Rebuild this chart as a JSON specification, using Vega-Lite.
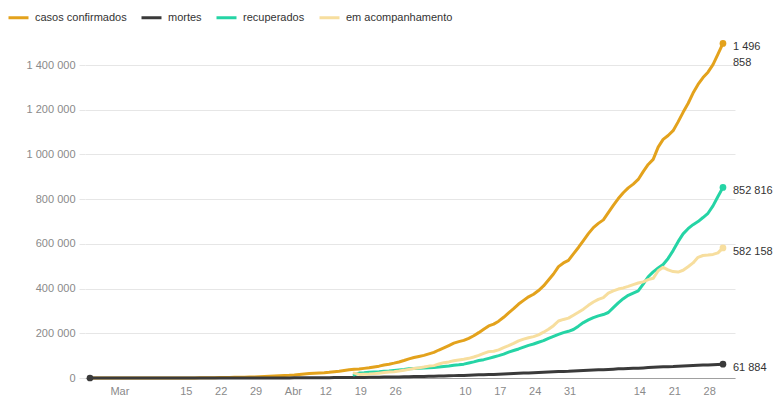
{
"$schema":"https://vega.github.io/schema/vega-lite/v6.json",
"width":650,"height":348,
"autosize":{"type":"none"},
"padding":{"left":85,"top":30,"right":47,"bottom":20},
"config":{"view":{"stroke":null},"font":"Liberation Sans"},
"datasets":{
"serie":[
{"d":"2020-02-26","casos":1,"mortes":0},
{"d":"2020-02-27","casos":1,"mortes":0},
{"d":"2020-02-28","casos":1,"mortes":0},
{"d":"2020-02-29","casos":2,"mortes":0},
{"d":"2020-03-01","casos":2,"mortes":0},
{"d":"2020-03-02","casos":2,"mortes":0},
{"d":"2020-03-03","casos":2,"mortes":0},
{"d":"2020-03-04","casos":3,"mortes":0},
{"d":"2020-03-05","casos":8,"mortes":0},
{"d":"2020-03-06","casos":13,"mortes":0},
{"d":"2020-03-07","casos":19,"mortes":0},
{"d":"2020-03-08","casos":25,"mortes":0},
{"d":"2020-03-09","casos":25,"mortes":0},
{"d":"2020-03-10","casos":34,"mortes":0},
{"d":"2020-03-11","casos":52,"mortes":0},
{"d":"2020-03-12","casos":77,"mortes":0},
{"d":"2020-03-13","casos":98,"mortes":0},
{"d":"2020-03-14","casos":121,"mortes":0},
{"d":"2020-03-15","casos":200,"mortes":0},
{"d":"2020-03-16","casos":234,"mortes":0},
{"d":"2020-03-17","casos":291,"mortes":1},
{"d":"2020-03-18","casos":428,"mortes":4},
{"d":"2020-03-19","casos":621,"mortes":7},
{"d":"2020-03-20","casos":904,"mortes":11},
{"d":"2020-03-21","casos":1128,"mortes":18},
{"d":"2020-03-22","casos":1546,"mortes":25},
{"d":"2020-03-23","casos":1891,"mortes":34},
{"d":"2020-03-24","casos":2201,"mortes":46},
{"d":"2020-03-25","casos":2433,"mortes":57},
{"d":"2020-03-26","casos":2915,"mortes":77},
{"d":"2020-03-27","casos":3417,"mortes":92},
{"d":"2020-03-28","casos":3904,"mortes":111},
{"d":"2020-03-29","casos":4256,"mortes":136},
{"d":"2020-03-30","casos":4579,"mortes":159},
{"d":"2020-03-31","casos":5717,"mortes":201},
{"d":"2020-04-01","casos":6836,"mortes":240},
{"d":"2020-04-02","casos":8044,"mortes":324},
{"d":"2020-04-03","casos":9056,"mortes":359},
{"d":"2020-04-04","casos":10278,"mortes":445},
{"d":"2020-04-05","casos":11130,"mortes":486},
{"d":"2020-04-06","casos":12056,"mortes":553},
{"d":"2020-04-07","casos":13717,"mortes":667},
{"d":"2020-04-08","casos":15927,"mortes":800},
{"d":"2020-04-09","casos":17857,"mortes":941},
{"d":"2020-04-10","casos":19638,"mortes":1056},
{"d":"2020-04-11","casos":20727,"mortes":1124},
{"d":"2020-04-12","casos":22169,"mortes":1223},
{"d":"2020-04-13","casos":23430,"mortes":1328},
{"d":"2020-04-14","casos":25262,"mortes":1532},
{"d":"2020-04-15","casos":28320,"mortes":1736},
{"d":"2020-04-16","casos":30425,"mortes":1924},
{"d":"2020-04-17","casos":33682,"mortes":2141},
{"d":"2020-04-18","casos":36599,"mortes":2347},
{"d":"2020-04-19","casos":38654,"mortes":2462,"recuperados":14026,"acompanhamento":22000},
{"d":"2020-04-20","casos":40581,"mortes":2587,"recuperados":22130,"acompanhamento":16000},
{"d":"2020-04-21","casos":43079,"mortes":2741,"recuperados":23000,"acompanhamento":17300},
{"d":"2020-04-22","casos":45757,"mortes":2906,"recuperados":25300,"acompanhamento":17500},
{"d":"2020-04-23","casos":49492,"mortes":3313,"recuperados":26600,"acompanhamento":19600},
{"d":"2020-04-24","casos":52995,"mortes":3670,"recuperados":27700,"acompanhamento":21700},
{"d":"2020-04-25","casos":58509,"mortes":4016,"recuperados":30200,"acompanhamento":24200},
{"d":"2020-04-26","casos":61888,"mortes":4205,"recuperados":31100,"acompanhamento":26600},
{"d":"2020-04-27","casos":66501,"mortes":4543,"recuperados":34100,"acompanhamento":27900},
{"d":"2020-04-28","casos":71886,"mortes":5017,"recuperados":35900,"acompanhamento":30900},
{"d":"2020-04-29","casos":78162,"mortes":5466,"recuperados":38000,"acompanhamento":34700},
{"d":"2020-04-30","casos":85380,"mortes":5901,"recuperados":40900,"acompanhamento":38500},
{"d":"2020-05-01","casos":91589,"mortes":6329,"recuperados":42000,"acompanhamento":42300},
{"d":"2020-05-02","casos":96559,"mortes":6750,"recuperados":43500,"acompanhamento":45300},
{"d":"2020-05-03","casos":101147,"mortes":7025,"recuperados":44500,"acompanhamento":48800},
{"d":"2020-05-04","casos":107780,"mortes":7321,"recuperados":45800,"acompanhamento":53200},
{"d":"2020-05-05","casos":114715,"mortes":7921,"recuperados":47500,"acompanhamento":55400},
{"d":"2020-05-06","casos":125218,"mortes":8536,"recuperados":49500,"acompanhamento":62400},
{"d":"2020-05-07","casos":135106,"mortes":9146,"recuperados":51500,"acompanhamento":68600},
{"d":"2020-05-08","casos":145328,"mortes":9897,"recuperados":54000,"acompanhamento":72000},
{"d":"2020-05-09","casos":155939,"mortes":10627,"recuperados":57000,"acompanhamento":77300},
{"d":"2020-05-10","casos":162699,"mortes":11123,"recuperados":59000,"acompanhamento":81000},
{"d":"2020-05-11","casos":168331,"mortes":11519,"recuperados":62000,"acompanhamento":84000},
{"d":"2020-05-12","casos":177589,"mortes":12400,"recuperados":67000,"acompanhamento":88000},
{"d":"2020-05-13","casos":188974,"mortes":13149,"recuperados":72000,"acompanhamento":94000},
{"d":"2020-05-14","casos":202918,"mortes":13993,"recuperados":78000,"acompanhamento":101000},
{"d":"2020-05-15","casos":218223,"mortes":14817,"recuperados":82000,"acompanhamento":110000},
{"d":"2020-05-16","casos":233142,"mortes":15633,"recuperados":88000,"acompanhamento":118000},
{"d":"2020-05-17","casos":241080,"mortes":16118,"recuperados":94000,"acompanhamento":120000},
{"d":"2020-05-18","casos":254220,"mortes":16853,"recuperados":100000,"acompanhamento":126000},
{"d":"2020-05-19","casos":271628,"mortes":17971,"recuperados":107000,"acompanhamento":136000},
{"d":"2020-05-20","casos":291579,"mortes":18859,"recuperados":116000,"acompanhamento":145000},
{"d":"2020-05-21","casos":310087,"mortes":20047,"recuperados":123000,"acompanhamento":155000},
{"d":"2020-05-22","casos":330890,"mortes":21048,"recuperados":130000,"acompanhamento":166000},
{"d":"2020-05-23","casos":347398,"mortes":22013,"recuperados":138000,"acompanhamento":174000},
{"d":"2020-05-24","casos":363211,"mortes":22666,"recuperados":146000,"acompanhamento":180000},
{"d":"2020-05-25","casos":374898,"mortes":23473,"recuperados":152000,"acompanhamento":185000},
{"d":"2020-05-26","casos":391222,"mortes":24512,"recuperados":160000,"acompanhamento":193000},
{"d":"2020-05-27","casos":411821,"mortes":25598,"recuperados":167000,"acompanhamento":205000},
{"d":"2020-05-28","casos":438238,"mortes":26754,"recuperados":177000,"acompanhamento":218000},
{"d":"2020-05-29","casos":465166,"mortes":27878,"recuperados":186000,"acompanhamento":234000},
{"d":"2020-05-30","casos":498440,"mortes":28834,"recuperados":195000,"acompanhamento":255000},
{"d":"2020-05-31","casos":514849,"mortes":29314,"recuperados":203000,"acompanhamento":262000},
{"d":"2020-06-01","casos":526447,"mortes":29937,"recuperados":209000,"acompanhamento":268000},
{"d":"2020-06-02","casos":555383,"mortes":31199,"recuperados":217000,"acompanhamento":281000},
{"d":"2020-06-03","casos":584016,"mortes":32548,"recuperados":232000,"acompanhamento":294000},
{"d":"2020-06-04","casos":614941,"mortes":34021,"recuperados":248000,"acompanhamento":308000},
{"d":"2020-06-05","casos":645771,"mortes":35026,"recuperados":260000,"acompanhamento":325000},
{"d":"2020-06-06","casos":672846,"mortes":35930,"recuperados":270000,"acompanhamento":340000},
{"d":"2020-06-07","casos":691758,"mortes":36455,"recuperados":278000,"acompanhamento":352000},
{"d":"2020-06-08","casos":707412,"mortes":37134,"recuperados":284000,"acompanhamento":360000},
{"d":"2020-06-09","casos":739503,"mortes":38406,"recuperados":293000,"acompanhamento":380000},
{"d":"2020-06-10","casos":772416,"mortes":39680,"recuperados":315000,"acompanhamento":390000},
{"d":"2020-06-11","casos":802828,"mortes":40919,"recuperados":336000,"acompanhamento":398000},
{"d":"2020-06-12","casos":828810,"mortes":41828,"recuperados":355000,"acompanhamento":403000},
{"d":"2020-06-13","casos":850514,"mortes":42720,"recuperados":370000,"acompanhamento":410000},
{"d":"2020-06-14","casos":867624,"mortes":43332,"recuperados":380000,"acompanhamento":418000},
{"d":"2020-06-15","casos":888271,"mortes":43959,"recuperados":390000,"acompanhamento":425000},
{"d":"2020-06-16","casos":923189,"mortes":45241,"recuperados":420000,"acompanhamento":430000},
{"d":"2020-06-17","casos":955377,"mortes":46510,"recuperados":453000,"acompanhamento":440000},
{"d":"2020-06-18","casos":978142,"mortes":47748,"recuperados":475000,"acompanhamento":446000},
{"d":"2020-06-19","casos":1032913,"mortes":48954,"recuperados":492000,"acompanhamento":480000},
{"d":"2020-06-20","casos":1067579,"mortes":49976,"recuperados":508000,"acompanhamento":495000},
{"d":"2020-06-21","casos":1085038,"mortes":50617,"recuperados":535000,"acompanhamento":484000},
{"d":"2020-06-22","casos":1106470,"mortes":51271,"recuperados":570000,"acompanhamento":476000},
{"d":"2020-06-23","casos":1145906,"mortes":52645,"recuperados":610000,"acompanhamento":474000},
{"d":"2020-06-24","casos":1188631,"mortes":53830,"recuperados":645000,"acompanhamento":482000},
{"d":"2020-06-25","casos":1228114,"mortes":54971,"recuperados":668000,"acompanhamento":498000},
{"d":"2020-06-26","casos":1274974,"mortes":55961,"recuperados":686000,"acompanhamento":515000},
{"d":"2020-06-27","casos":1313667,"mortes":57070,"recuperados":700000,"acompanhamento":540000},
{"d":"2020-06-28","casos":1344143,"mortes":57622,"recuperados":718000,"acompanhamento":548000},
{"d":"2020-06-29","casos":1368195,"mortes":58314,"recuperados":737000,"acompanhamento":550000},
{"d":"2020-06-30","casos":1402041,"mortes":59594,"recuperados":770000,"acompanhamento":553000},
{"d":"2020-07-01","casos":1448753,"mortes":60632,"recuperados":812000,"acompanhamento":560000},
{"d":"2020-07-02","casos":1496858,"mortes":61884,"recuperados":852816,"acompanhamento":582158}
],
"fim":[
{"d":"2020-02-26","s":"mortes","v":0,"label":""},
{"d":"2020-07-02","s":"casos","v":1496858,"label":"1 496\n858"},
{"d":"2020-07-02","s":"recuperados","v":852816,"label":"852 816"},
{"d":"2020-07-02","s":"acompanhamento","v":582158,"label":"582 158"},
{"d":"2020-07-02","s":"mortes","v":61884,"label":"61 884"}
]
},
"layer":[
{"data":{"name":"serie"},
"transform":[{"fold":["casos","mortes","recuperados","acompanhamento"],"as":["s","v"]},{"filter":"isValid(datum.v)"}],
"mark":{"type":"line","strokeCap":"round","strokeJoin":"round"},
"encoding":{
"x":{"field":"d","type":"temporal",
"scale":{"type":"utc","domain":[{"year":2020,"month":2,"date":25,"utc":true},{"year":2020,"month":7,"date":4,"hours":10,"utc":true}]},
"axis":{"title":null,"ticks":false,"grid":false,"domainColor":"#a0a0a0","domainWidth":1,"labelColor":"#8a8a8a","labelFontSize":11,"labelPadding":7,"labelAlign":"left","labelOverlap":false,"labelFlush":false,
"values":[
{"year":2020,"month":3,"date":1,"utc":true},
{"year":2020,"month":3,"date":15,"utc":true},
{"year":2020,"month":3,"date":22,"utc":true},
{"year":2020,"month":3,"date":29,"utc":true},
{"year":2020,"month":4,"date":5,"utc":true},
{"year":2020,"month":4,"date":12,"utc":true},
{"year":2020,"month":4,"date":19,"utc":true},
{"year":2020,"month":4,"date":26,"utc":true},
{"year":2020,"month":5,"date":10,"utc":true},
{"year":2020,"month":5,"date":17,"utc":true},
{"year":2020,"month":5,"date":24,"utc":true},
{"year":2020,"month":5,"date":31,"utc":true},
{"year":2020,"month":6,"date":14,"utc":true},
{"year":2020,"month":6,"date":21,"utc":true},
{"year":2020,"month":6,"date":28,"utc":true}],
"labelExpr":"utcdate(datum.value) <= 7 ? ['Jan','Fev','Mar','Abr','Mai','Jun','Jul'][utcmonth(datum.value)] : '' + utcdate(datum.value)"}},
"y":{"field":"v","type":"quantitative","scale":{"domain":[0,1557000],"nice":false,"zero":true},
"axis":{"title":null,"values":[0,200000,400000,600000,800000,1000000,1200000,1400000],"labelExpr":"replace(format(datum.value, ','), regexp(',', 'g'), ' ')","domain":false,"grid":true,"gridColor":"#e6e6e6","tickColor":"#e6e6e6","tickSize":6,"labelColor":"#8a8a8a","labelFontSize":11,"labelPadding":4}},
"color":{"field":"s","type":"nominal",
"scale":{"domain":["casos","mortes","recuperados","acompanhamento"],"range":["#e3a21c","#3a3a3a","#25d4a5","#f7de9e"]},
"legend":{"title":null,"orient":"none","legendX":-78,"legendY":-24,"direction":"horizontal","symbolType":"stroke","symbolSize":400,"symbolStrokeWidth":3,"labelFontSize":11,"labelColor":"#333333","columnPadding":8,"labelOffset":5,
"labelExpr":"datum.label == 'casos' ? 'casos confirmados' : datum.label == 'acompanhamento' ? 'em acompanhamento' : datum.label"}},
"strokeWidth":{"field":"s","type":"nominal","scale":{"domain":["casos","mortes","recuperados","acompanhamento"],"range":[3,3,2.2,1.5]},"legend":null}
}},
{"data":{"name":"fim"},
"mark":{"type":"circle","size":45,"opacity":1},
"encoding":{
"x":{"field":"d","type":"temporal"},
"y":{"field":"v","type":"quantitative"},
"color":{"field":"s","type":"nominal"}
}},
{"data":{"name":"fim"},
"mark":{"type":"text","align":"left","baseline":"top","dx":10,"dy":-2,"lineBreak":"\n","lineHeight":16,"fontSize":11,"color":"#333333"},
"encoding":{
"x":{"field":"d","type":"temporal"},
"y":{"field":"v","type":"quantitative"},
"text":{"field":"label"}
}}
]
}
